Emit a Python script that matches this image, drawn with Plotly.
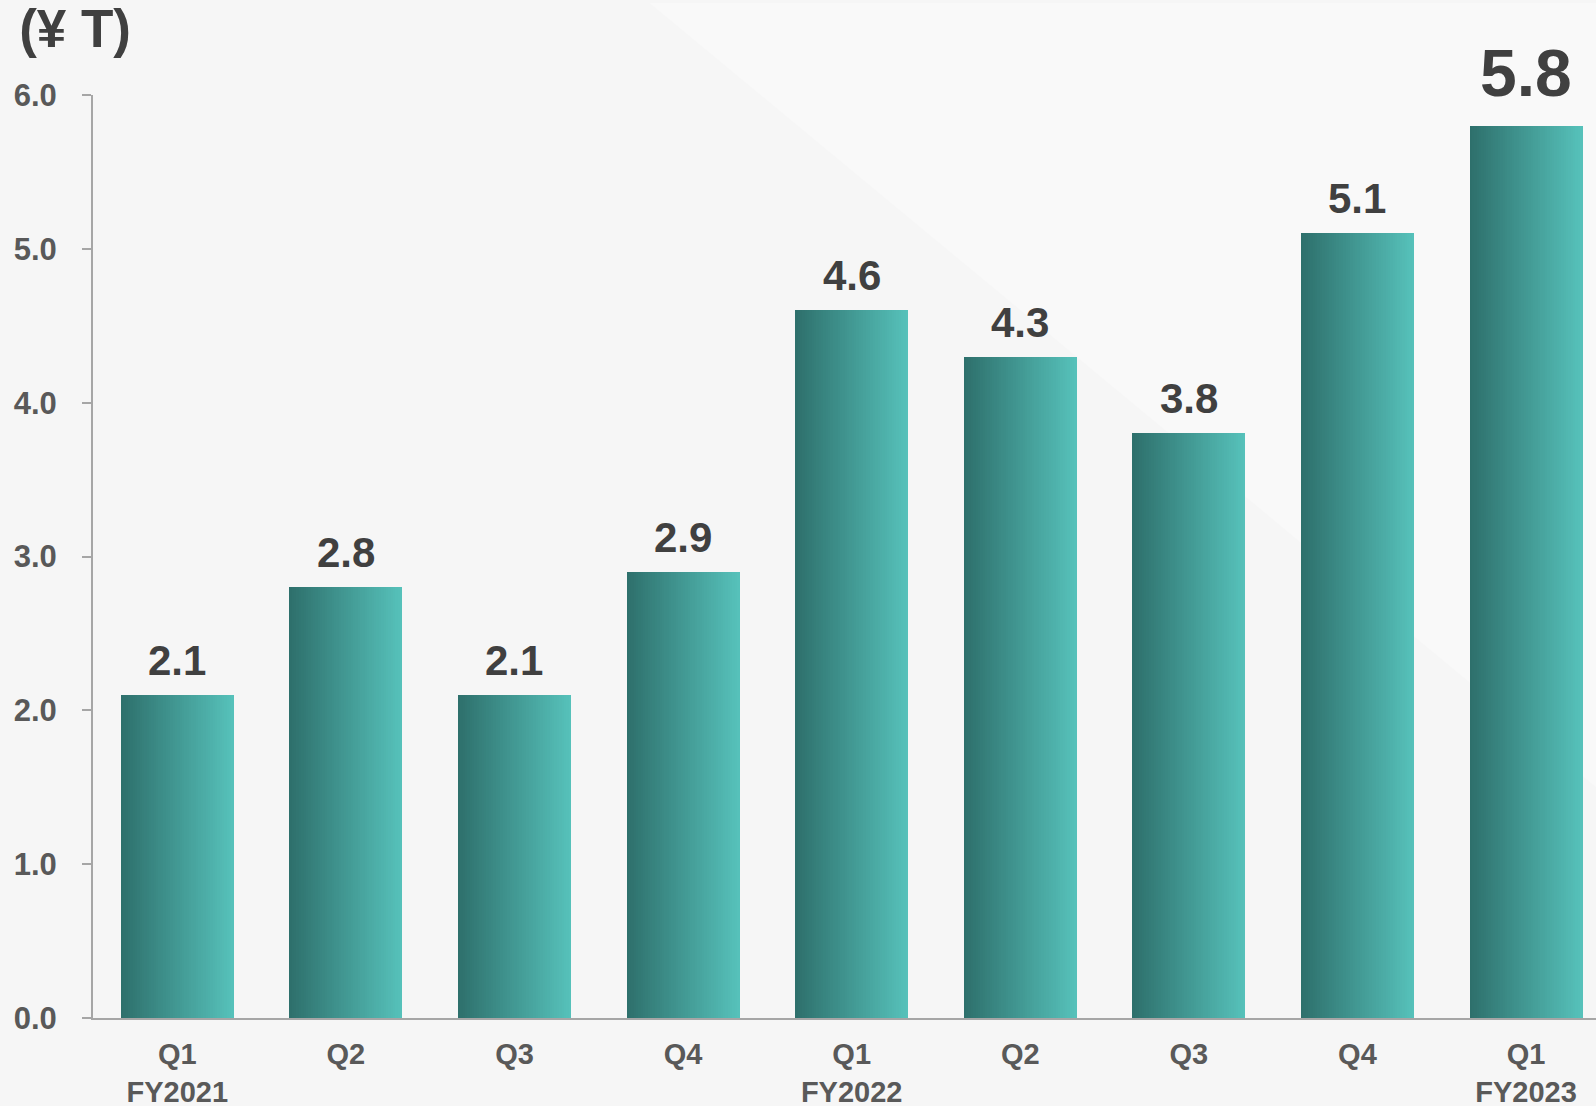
import plotly.graph_objects as go

# Quarterly values (¥ trillion)
quarters = ["Q1<br>FY2021", "Q2", "Q3", "Q4", "Q1<br>FY2022", "Q2", "Q3", "Q4", "Q1<br>FY2023"]
values = [2.1, 2.8, 2.1, 2.9, 4.6, 4.3, 3.8, 5.1, 5.8]
y_ticks = [0, 1, 2, 3, 4, 5, 6]
unit_label = "(¥ T)"

FONT = "Liberation Sans, Arial, sans-serif"
DARK = (46, 112, 108)
LIGHT = (86, 193, 186)
BAR_W = 0.67
N_SLICES = 48

x_pos = list(range(len(values)))
fig = go.Figure()

# Horizontal gradient on each bar: thin overlapping vertical slices
step = BAR_W / N_SLICES
for i in range(N_SLICES):
    t = i / (N_SLICES - 1)
    r, g, b = (round(DARK[k] + (LIGHT[k] - DARK[k]) * t) for k in range(3))
    w = step if i == N_SLICES - 1 else step * 1.6
    fig.add_trace(go.Bar(
        x=x_pos, y=values,
        width=w, offset=-BAR_W / 2 + i * step,
        marker=dict(color=f"rgb({r},{g},{b})", line=dict(width=0)),
        hoverinfo="skip", showlegend=False,
    ))

# Value labels above bars (last one emphasised)
for i, v in enumerate(values):
    last = i == len(values) - 1
    fig.add_annotation(
        x=i, y=v, xref="x", yref="y",
        text=f"{v:.1f}", showarrow=False,
        yanchor="bottom", yshift=14 if last else 9,
        font=dict(family=FONT, size=66 if last else 42, color="#404040", weight="bold"),
    )

fig.update_layout(
    width=1596, height=1106,
    margin=dict(l=93, r=0, t=95, b=88, autoexpand=False),
    paper_bgcolor="#f6f6f6", plot_bgcolor="rgba(0,0,0,0)",
    barmode="overlay", bargap=0,
    title=dict(
        text=unit_label, xref="container", yref="container",
        x=0.012, xanchor="left", y=0.991, yanchor="top",
        font=dict(family=FONT, size=53, color="#404040", weight="bold"),
    ),
    xaxis=dict(
        range=[-0.5, 8.415], tickvals=x_pos, ticktext=quarters,
        showgrid=False, zeroline=False, ticks="", automargin=False,
        showline=True, linecolor="#a6a6a6", linewidth=2,
        tickfont=dict(family=FONT, size=29, color="#595959", weight="bold"),
        ticklabelstandoff=9,
    ),
    yaxis=dict(
        range=[0, 6], tickvals=y_ticks, ticktext=[f"{t:.1f}" for t in y_ticks],
        showgrid=False, zeroline=False, automargin=False,
        ticks="outside", ticklen=9, tickwidth=2, tickcolor="#a6a6a6",
        showline=True, linecolor="#a6a6a6", linewidth=2,
        tickfont=dict(family=FONT, size=31, color="#595959", weight="bold"),
        ticklabelstandoff=19,
    ),
    shapes=[
        # faint lighter diagonal band in the background
        dict(type="path", xref="paper", yref="paper", layer="below",
             path="M 0.37 1.1 L 1 1.1 L 1 0.25 Z",
             fillcolor="rgba(255,255,255,0.3)", line=dict(width=0)),
    ],
)

fig.write_html("out.html")
